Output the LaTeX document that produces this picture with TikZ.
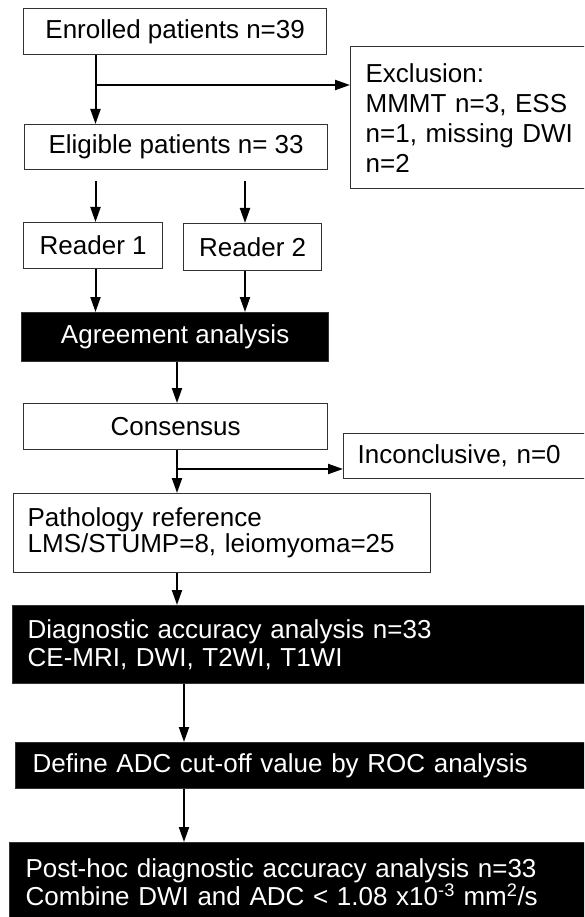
\documentclass[tikz,border=0pt]{standalone}
\usepackage{fontspec}
\setmainfont{Liberation Sans}
\usetikzlibrary{arrows.meta}

\begin{document}
\begin{tikzpicture}[x=1pt,y=-1pt,
        box/.style={draw=black!80, line width=1.3pt, fill=white, inner sep=0pt, anchor=north west,
            font=\fontsize{26}{28}\selectfont},
        darkbox/.style={box, fill=black, text=white},
        arr/.style={line width=2pt, -{Triangle[length=15pt,width=10pt]}}]

        \useasboundingbox (0,0) rectangle (584,917);
        \clip (0,0) rectangle (584,917);

        % arrow columns
        \coordinate (colA) at (95.5,0);
        \coordinate (colB) at (245,0);
        \coordinate (colC) at (177,0);
        \coordinate (colD) at (184,0);

        \node[box, minimum width=303pt, minimum height=46pt] (enrolled) at (23,8) {Enrolled patients n=39};
        \node[box, font=\fontsize{26}{30}\selectfont, minimum height=142pt, text width=220pt, inner xsep=15pt, align=left] (exclusion) at (350,46) {Exclusion:\\MMMT n=3, ESS\\n=1, missing DWI\\n=2};
        \node[box, minimum width=303pt, minimum height=45pt] (eligible) at (24,124) {Eligible patients n= 33};

        \node[box, minimum width=139pt, minimum height=46pt] (reader1) at (23,222) {Reader 1};
        \node[box, minimum width=138pt, minimum height=47pt] (reader2) at (183,223) {Reader 2};
        \node[darkbox, minimum width=307pt, minimum height=49pt] (agreement) at (21,312) {Agreement analysis};

        \node[box, minimum width=304pt, minimum height=46pt] (consensus) at (23,403) {Consensus};
        \node[box, minimum height=45pt, text width=230pt, inner xsep=14pt, align=left] (inconclusive) at (343,433) {Inconclusive, n=0};
        \node[box, font=\fontsize{26}{26}\selectfont, minimum height=79pt, text width=389pt, inner xsep=14pt, align=left] (pathology) at (13,493) {Pathology reference\\LMS/STUMP=8, leiomyoma=25};

        \node[darkbox, minimum height=78pt, text width=560pt, inner xsep=15pt, align=left] (diagnostic) at (12,605) {Diagnostic accuracy analysis n=33\\CE-MRI, DWI, T2WI, T1WI};
        \node[darkbox, minimum height=46pt, text width=555pt, inner xsep=17pt, align=left] (define) at (15,742) {Define ADC cut-off value by ROC analysis};
        \node[darkbox, minimum height=80pt, text width=565pt, inner xsep=16pt, align=left] (posthoc) at (9,842) {Post-hoc diagnostic accuracy analysis n=33\\Combine DWI and ADC < 1.08 x10\textsuperscript{-3} mm\textsuperscript{2}/s};

        \draw[arr] (enrolled.south -| colA) -- (eligible.north -| colA);
        \coordinate (split1) at (95.5,85);
        \draw[arr] (split1) -- (split1 -| exclusion.west);

        \draw[arr, shorten <=11pt] (eligible.south -| colA) -- (reader1.north -| colA);
        \draw[arr, shorten <=11pt] (eligible.south -| colB) -- (reader2.north -| colB);
        \draw[arr] (reader1.south -| colA) -- (agreement.north -| colA);
        \draw[arr] (reader2.south -| colB) -- (agreement.north -| colB);

        \draw[arr] (agreement.south -| colC) -- (consensus.north -| colC);
        \draw[arr] (consensus.south -| colC) -- (pathology.north -| colC);
        \coordinate (split2) at (177,469);
        \draw[arr] (split2) -- (split2 -| inconclusive.west);

        \draw[arr] (pathology.south -| colC) -- (diagnostic.north -| colC);
        \draw[arr] (diagnostic.south -| colD) -- (define.north -| colD);
        \draw[arr] (define.south -| colD) -- (posthoc.north -| colD);
    \end{tikzpicture}
\end{document}
